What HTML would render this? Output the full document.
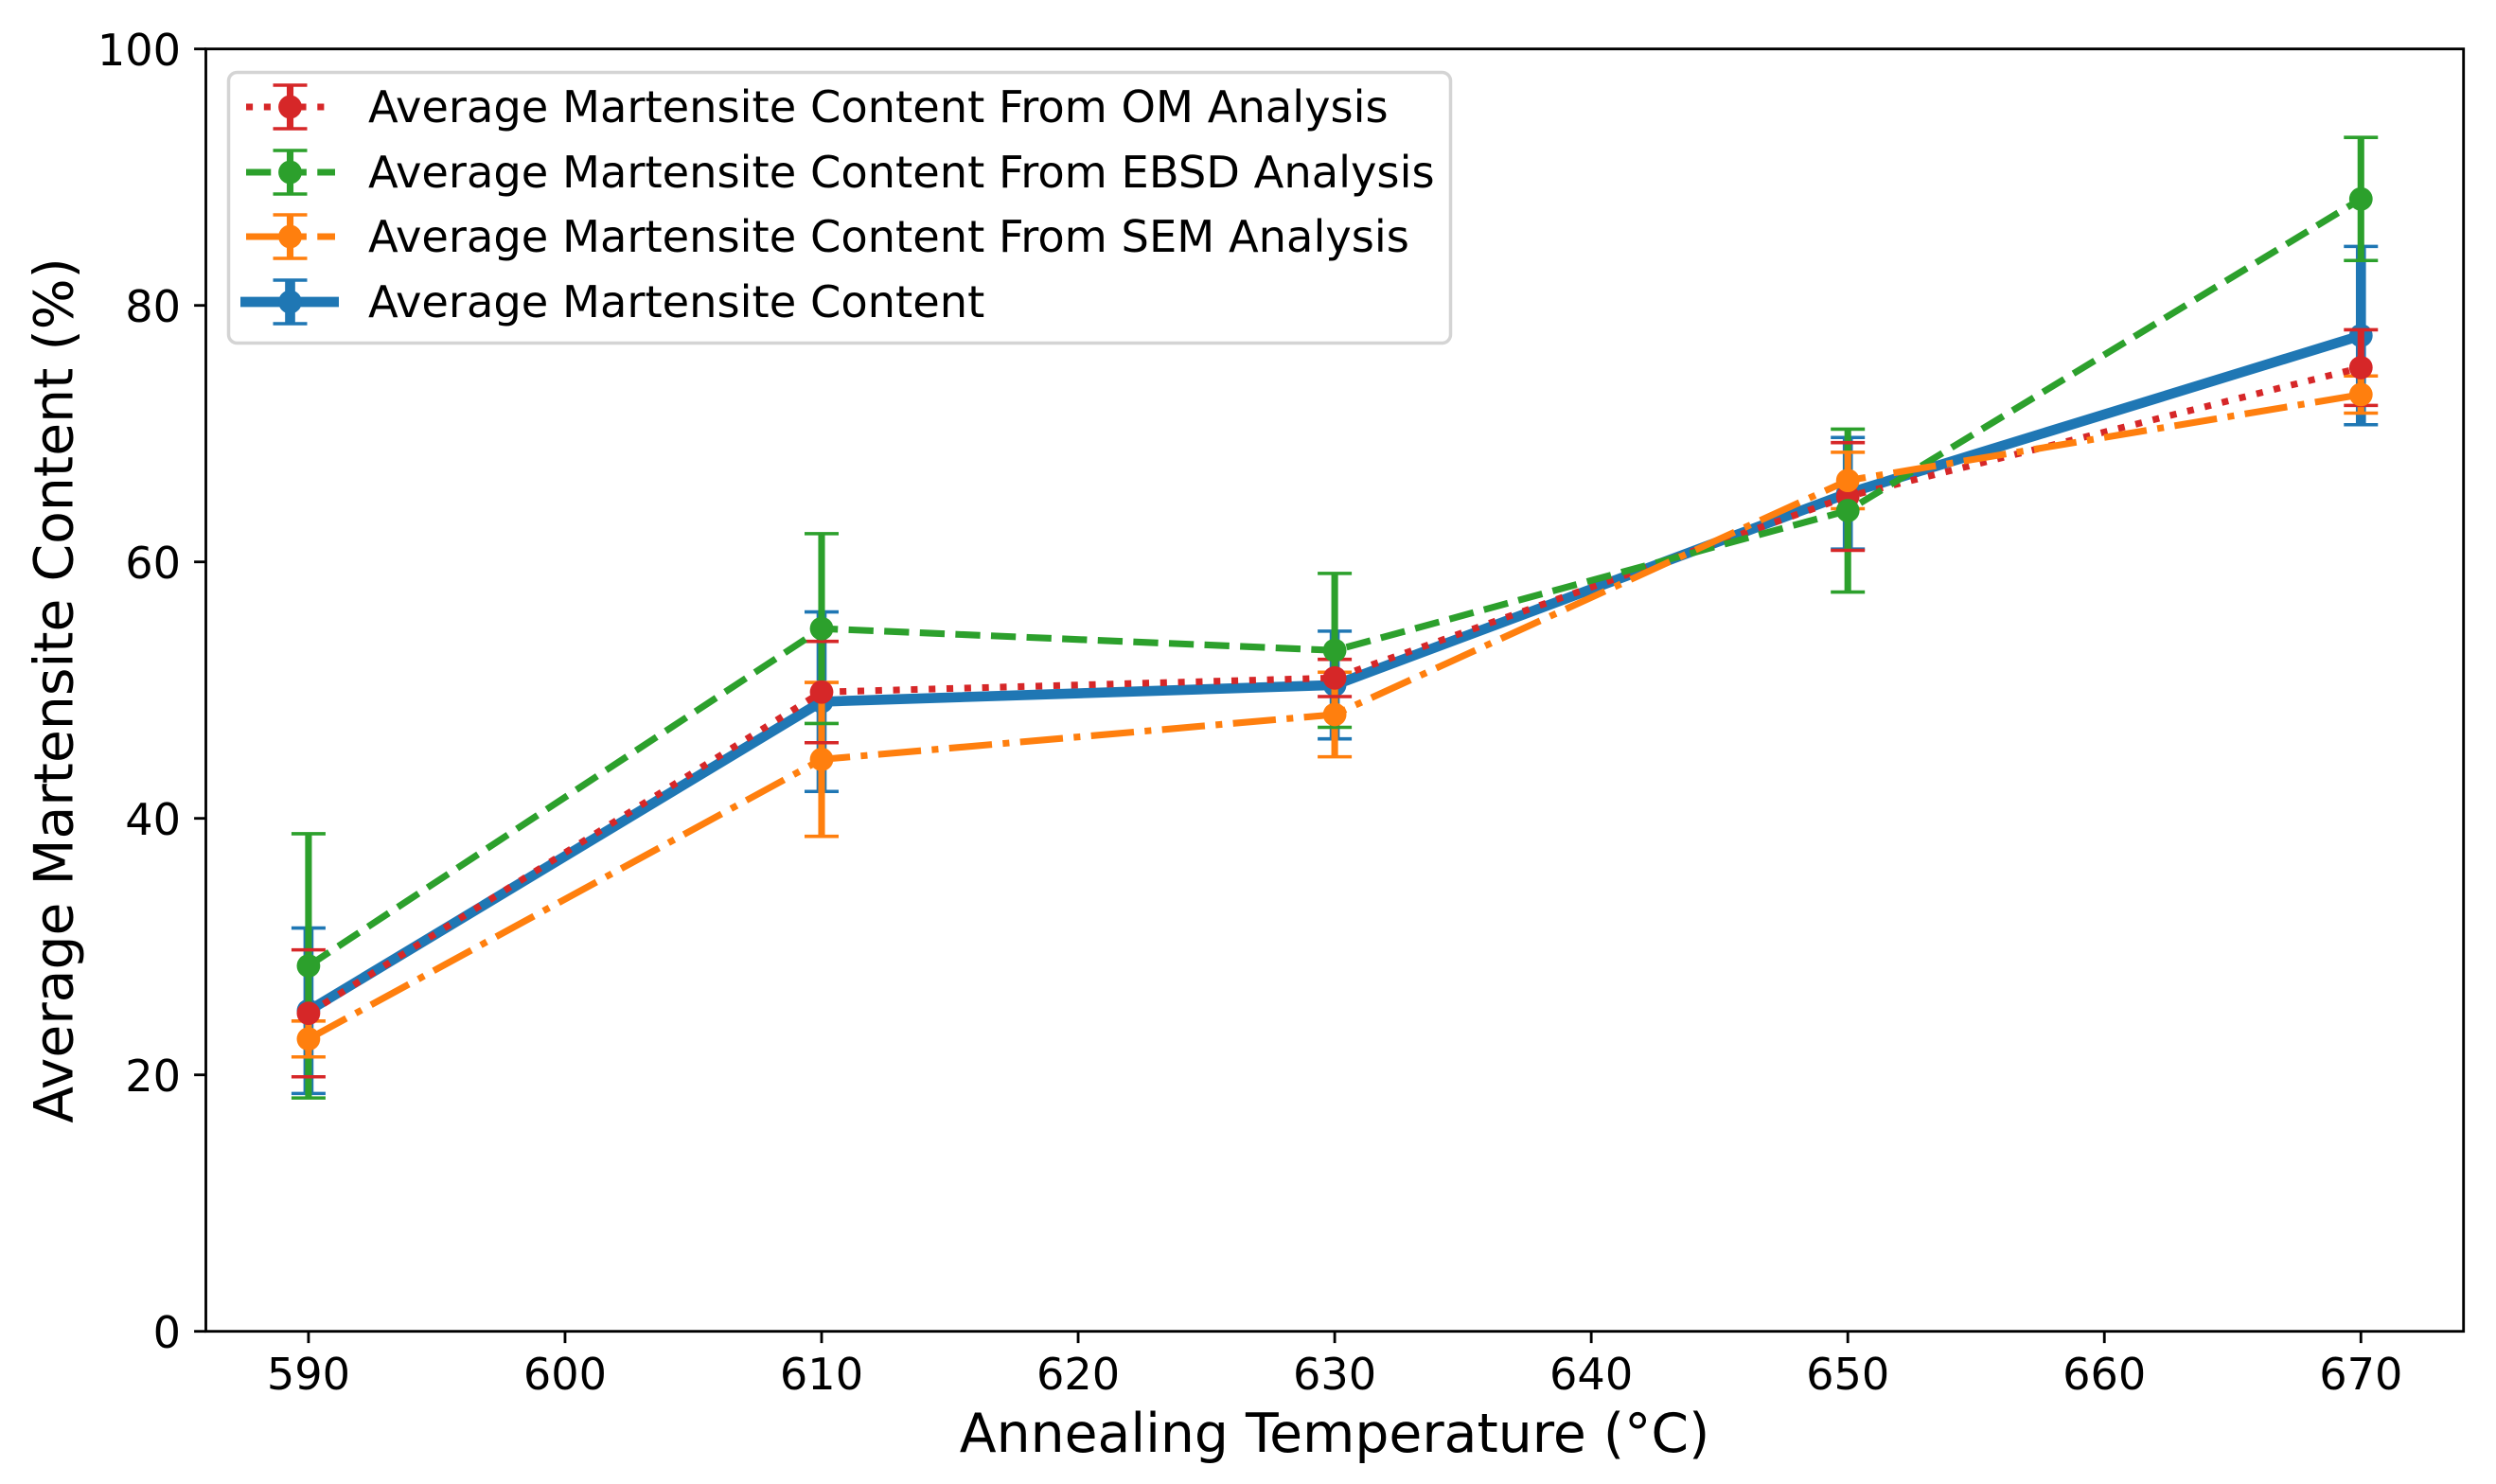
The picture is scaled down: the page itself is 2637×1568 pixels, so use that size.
<!DOCTYPE html>
<html lang="en">
<head>
<meta charset="utf-8">
<title>Average Martensite Content vs Annealing Temperature</title>
<style>
html,body{margin:0;padding:0;background:#fff;width:2637px;height:1568px;overflow:hidden}
svg{display:block}
text{font-family:"DejaVu Sans","Liberation Sans",sans-serif;fill:#000}
.tick{font-size:46.2px}
.leg{font-size:46.35px}
.axl{font-size:56.8px}
</style>
</head>
<body>
<svg id="chart" xmlns="http://www.w3.org/2000/svg" width="2637" height="1568" viewBox="0 0 2637 1568">
  <rect x="0" y="0" width="2637" height="1568" fill="#ffffff"/>
  <g id="marks"></g>
  <g id="axes"></g>
  <text class="axl" x="1410" y="1534" text-anchor="middle">Annealing Temperature (°C)</text>
  <text class="axl" transform="translate(76.5,729.5) rotate(-90)" text-anchor="middle">Average Martensite Content (%)</text>
  <g>
    <rect x="241.5" y="76.5" width="1291" height="286" rx="9" ry="9" fill="#ffffff" fill-opacity="0.8" stroke="#d4d4d4" stroke-width="3.5"/>
    <g stroke="#d62728" fill="none">
      <line x1="260" y1="113" x2="354" y2="113" stroke-width="7.1" stroke-dasharray="7.1 11.72"/>
      <line x1="306.5" y1="90" x2="306.5" y2="136" stroke-width="7.1"/>
      <line x1="288.5" y1="90" x2="324.5" y2="90" stroke-width="3.55"/>
      <line x1="288.5" y1="136" x2="324.5" y2="136" stroke-width="3.55"/>
      <circle cx="306.5" cy="113" r="12.4" fill="#d62728" stroke="none"/>
    </g>
    <text class="leg" x="389" y="129">Average Martensite Content From OM Analysis</text>
    <g stroke="#2ca02c" fill="none">
      <line x1="260" y1="182" x2="354" y2="182" stroke-width="7.1" stroke-dasharray="26.27 11.36"/>
      <line x1="306.5" y1="159" x2="306.5" y2="205" stroke-width="7.1"/>
      <line x1="288.5" y1="159" x2="324.5" y2="159" stroke-width="3.55"/>
      <line x1="288.5" y1="205" x2="324.5" y2="205" stroke-width="3.55"/>
      <circle cx="306.5" cy="182" r="12.4" fill="#2ca02c" stroke="none"/>
    </g>
    <text class="leg" x="389" y="198">Average Martensite Content From EBSD Analysis</text>
    <g stroke="#ff7f0e" fill="none">
      <line x1="260" y1="250" x2="354" y2="250" stroke-width="7.1" stroke-dasharray="45.44 11.36 7.1 11.36"/>
      <line x1="306.5" y1="227" x2="306.5" y2="273" stroke-width="7.1"/>
      <line x1="288.5" y1="227" x2="324.5" y2="227" stroke-width="3.55"/>
      <line x1="288.5" y1="273" x2="324.5" y2="273" stroke-width="3.55"/>
      <circle cx="306.5" cy="250" r="12.4" fill="#ff7f0e" stroke="none"/>
    </g>
    <text class="leg" x="389" y="266">Average Martensite Content From SEM Analysis</text>
    <g stroke="#1f77b4" fill="none">
      <line x1="254" y1="319" x2="358" y2="319" stroke-width="10.65"/>
      <line x1="306.5" y1="296" x2="306.5" y2="342" stroke-width="10.65"/>
      <line x1="288.5" y1="296" x2="324.5" y2="296" stroke-width="3.55"/>
      <line x1="288.5" y1="342" x2="324.5" y2="342" stroke-width="3.55"/>
      <circle cx="306.5" cy="319" r="12.4" fill="#1f77b4" stroke="none"/>
    </g>
    <text class="leg" x="389" y="335">Average Martensite Content</text>
  </g>
</svg>
<script>
const temperatures = [590, 610, 630, 650, 670];
const omMean = [24.8, 49.85, 50.95, 65.1, 75.15];
const omErr = [4.95, 3.95, 1.45, 4.2, 2.95];
const ebsdMean = [28.5, 54.8, 53.1, 64.0, 88.3];
const ebsdErr = [10.3, 7.4, 6.0, 6.35, 4.8];
const semMean = [22.8, 44.6, 48.1, 66.35, 73.05];
const semErr = [1.4, 6.0, 3.3, 2.2, 1.45];
const avgMean = [25.0, 49.1, 50.4, 65.35, 77.65];
const avgErr = [6.45, 7.0, 4.2, 4.35, 6.95];
const xTickLabels = [590, 600, 610, 620, 630, 640, 650, 660, 670];
const yTickLabels = [0, 20, 40, 60, 80, 100];

const xDomain = [586, 674];
const yDomain = [0, 100];
const plotLeft = 217.5, plotRight = 2602.7, plotTop = 51.7, plotBottom = 1406.7;
function xScale(v){ return plotLeft + (v - xDomain[0]) / (xDomain[1] - xDomain[0]) * (plotRight - plotLeft); }
function yScale(v){ return plotBottom - (v - yDomain[0]) / (yDomain[1] - yDomain[0]) * (plotBottom - plotTop); }

const NS = 'http://www.w3.org/2000/svg';
function make(tag, attrs, parent){
  const node = document.createElementNS(NS, tag);
  for (const k in attrs) node.setAttribute(k, attrs[k]);
  parent.appendChild(node);
  return node;
}

const marks = document.getElementById('marks');
const axes = document.getElementById('axes');
const capHalf = 18;

function drawBars(key, means, errs, color, width){
  means.forEach(function(m, i){
    const px = xScale(temperatures[i]);
    const bar = make('line', {x1:px, x2:px, y1:yScale(m + errs[i]), y2:yScale(m - errs[i]), stroke:color, 'stroke-width':width}, marks);
    
    
  });
}
function drawCaps(key, means, errs, color){
  means.forEach(function(m, i){
    const px = xScale(temperatures[i]);
    [m + errs[i], m - errs[i]].forEach(function(v){
      const cap = make('line', {x1:px - capHalf, x2:px + capHalf, y1:yScale(v), y2:yScale(v), stroke:color, 'stroke-width':3.55}, marks);
      
      
    });
  });
}
function drawLine(key, means, color, width, dash){
  const pts = means.map(function(m, i){ return xScale(temperatures[i]) + ',' + yScale(m); }).join(' ');
  const attrs = {points:pts, fill:'none', stroke:color, 'stroke-width':width, 'stroke-linejoin':'round'};
  if (dash) attrs['stroke-dasharray'] = dash;
  const line = make('polyline', attrs, marks);
  
  
  means.forEach(function(m, i){
    const dot = make('circle', {cx:xScale(temperatures[i]), cy:yScale(m), r:12.4, fill:color}, marks);
    
    
  });
}

drawBars('average', avgMean, avgErr, '#1f77b4', 10.65);
drawCaps('average', avgMean, avgErr, '#1f77b4');
drawLine('average', avgMean, '#1f77b4', 10.65, null);

drawBars('om', omMean, omErr, '#d62728', 7.1);
drawBars('ebsd', ebsdMean, ebsdErr, '#2ca02c', 7.1);
drawBars('sem', semMean, semErr, '#ff7f0e', 7.1);
drawCaps('om', omMean, omErr, '#d62728');
drawCaps('ebsd', ebsdMean, ebsdErr, '#2ca02c');
drawCaps('sem', semMean, semErr, '#ff7f0e');
drawLine('om', omMean, '#d62728', 7.1, '7.1 11.72');
drawLine('ebsd', ebsdMean, '#2ca02c', 7.1, '26.27 11.36');
drawLine('sem', semMean, '#ff7f0e', 7.1, '45.44 11.36 7.1 11.36');

xTickLabels.forEach(function(v){
  const px = xScale(v);
  const tick = make('line', {x1:px, x2:px, y1:plotBottom, y2:plotBottom + 12.4, stroke:'#000', 'stroke-width':2.84}, axes);
  
  
  const label = make('text', {x:px, y:1468, 'text-anchor':'middle', class:'tick'}, axes);
  label.textContent = v;
  
  
});
yTickLabels.forEach(function(v){
  const py = yScale(v);
  const tick = make('line', {x1:plotLeft - 12.4, x2:plotLeft, y1:py, y2:py, stroke:'#000', 'stroke-width':2.84}, axes);
  
  
  const label = make('text', {x:191, y:py + 17.5, 'text-anchor':'end', class:'tick'}, axes);
  label.textContent = v;
  
  
});
const frame = make('rect', {x:plotLeft, y:plotTop, width:plotRight - plotLeft, height:plotBottom - plotTop, fill:'none', stroke:'#000', 'stroke-width':2.84}, axes);


</script>
</body>
</html>
